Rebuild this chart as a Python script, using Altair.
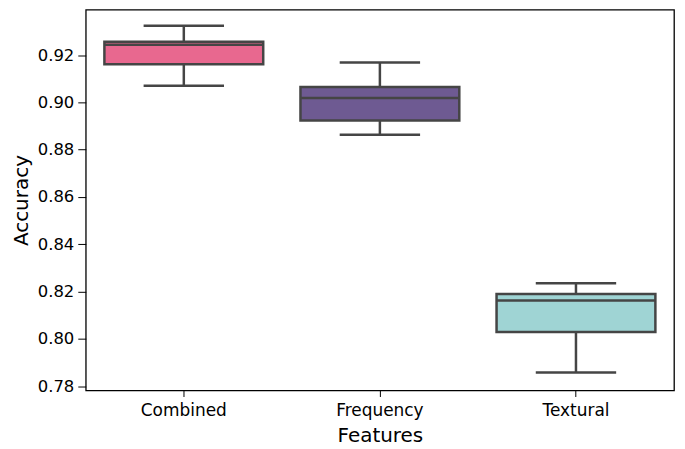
import altair as alt
import pandas as pd

categories = ["Combined", "Frequency", "Textural"]
whisker_low = [0.9070, 0.8863, 0.7858]
q1 = [0.9161, 0.8923, 0.8029]
median = [0.9244, 0.9019, 0.8163]
q3 = [0.9256, 0.9065, 0.8190]
whisker_high = [0.9324, 0.9169, 0.8235]
colors = ["#e8688f", "#6e5a92", "#9fd4d4"]
y_ticks = [0.78, 0.80, 0.82, 0.84, 0.86, 0.88, 0.90, 0.92]

df = pd.DataFrame({
    "Features": categories,
    "lo": whisker_low,
    "q1": q1,
    "med": median,
    "q3": q3,
    "hi": whisker_high,
})

W, H = 590, 382
band = W / 3
LINE = "#454545"
FONT = "DejaVu Sans"

x = alt.X("Features:N", sort=categories,
          scale=alt.Scale(paddingInner=0, paddingOuter=0),
          axis=alt.Axis(title="Features", labelAngle=0, labelFontSize=17,
                        titleFontSize=20, titleFontWeight="normal",
                        tickSize=6, labelPadding=6, titlePadding=7,
                        domain=False, tickColor="black", labelColor="black",
                        titleColor="black", labelFont=FONT, titleFont=FONT))
yscale = alt.Scale(domain=[0.7782, 0.9392], nice=False, zero=False)
yaxis = alt.Axis(title="Accuracy", values=y_ticks, format=".2f", grid=False,
                 labelFontSize=16.5, titleFontSize=20, titleFontWeight="normal",
                 tickSize=8, labelPadding=4, titlePadding=6, domain=False,
                 tickColor="black", labelColor="black", titleColor="black",
                 labelFont=FONT, titleFont=FONT)

base = alt.Chart(df)

whisk = base.mark_rule(color=LINE, strokeWidth=2.5).encode(
    x=x, y=alt.Y("lo:Q", scale=yscale, axis=yaxis), y2="hi:Q")

box = base.mark_bar(width=alt.RelativeBandSize(0.81), stroke=LINE,
                    strokeWidth=2.5).encode(
    x=x, y=alt.Y("q1:Q", scale=yscale, axis=yaxis), y2="q3:Q",
    color=alt.Color("Features:N", sort=categories,
                    scale=alt.Scale(domain=categories, range=colors),
                    legend=None))

med = base.mark_tick(color=LINE, size=band * 0.81, thickness=2.5, opacity=1).encode(
    x=x, y=alt.Y("med:Q", scale=yscale, axis=yaxis))

cap_lo = base.mark_tick(color=LINE, size=band * 0.41, thickness=2.5, opacity=1).encode(
    x=x, y=alt.Y("lo:Q", scale=yscale, axis=yaxis))
cap_hi = base.mark_tick(color=LINE, size=band * 0.41, thickness=2.5, opacity=1).encode(
    x=x, y=alt.Y("hi:Q", scale=yscale, axis=yaxis))

chart = alt.layer(whisk, box, med, cap_lo, cap_hi).properties(
    width=W, height=H,
    autosize=alt.AutoSizeParams(type="none"),
    padding={"left": 78, "top": 1, "right": 3, "bottom": 57},
    background="white",
).configure_view(stroke="black", strokeWidth=1.3)

chart.save("out.html", embed_options={"renderer": "svg", "actions": False})
